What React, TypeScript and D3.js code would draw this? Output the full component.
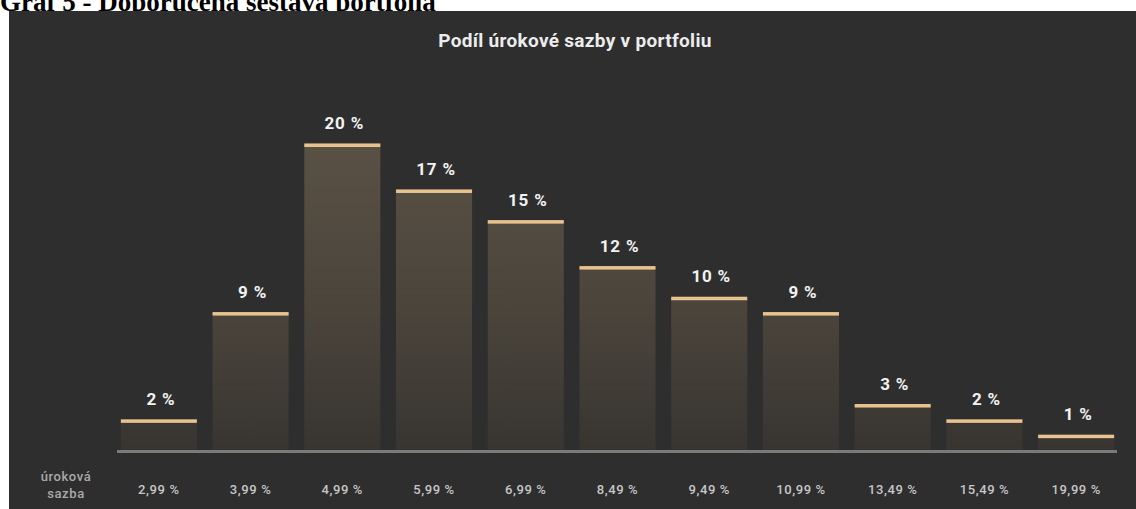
import React from "react";
import * as d3 from "d3";

// Interest-rate buckets and their share of the portfolio (%)
const rates = ["2,99 %", "3,99 %", "4,99 %", "5,99 %", "6,99 %", "8,49 %", "9,49 %", "10,99 %", "13,49 %", "15,49 %", "19,99 %"];
const shares = [2, 9, 20, 17, 15, 12, 10, 9, 3, 2, 1];

const chartTitle = "Podíl úrokové sazby v portfoliu";
const figureCaption = "Graf 5 - Doporučená sestava portfolia";
const axisCaption = ["úroková", "sazba"];

const W = 1136;
const H = 509;

export default function App() {
  const x = d3.scaleBand<string>().domain(rates).range([113, 1122]).paddingInner(0.171).paddingOuter(0.0855);
  const y = d3.scaleLinear().domain([0, 20]).range([450, 143.5]);
  const base = y(0);

  return (
    <svg
      width={W}
      height={H}
      style={{ position: "absolute", left: 0, top: 0, display: "block" }}
      fontFamily="Roboto, 'Noto Sans', sans-serif"
    >
      <defs>
        <linearGradient id="barFill" gradientUnits="userSpaceOnUse" x1="0" y1={y(20)} x2="0" y2={base}>
          <stop offset="0" stopColor="#5a5145" />
          <stop offset="0.55" stopColor="#4a443b" />
          <stop offset="1" stopColor="#383531" />
        </linearGradient>
      </defs>
      <rect x={0} y={0} width={W} height={H} fill="#ffffff" />
      {/* figure caption sits above the dark panel, its upper part clipped by the page edge */}
      <text x={0} y={10.5} fontFamily="'Liberation Serif', 'Times New Roman', serif" fontWeight="bold" fontSize={27} fill="#000">
        {figureCaption}
      </text>
      <rect x={9} y={11} width={W - 9} height={H - 11} fill="#2e2e2e" />

      <text x={575} y={46.5} textAnchor="middle" fontWeight="bold" fontSize={19} letterSpacing={0.3} fill="#ececec">
        {chartTitle}
      </text>

      {rates.map((r, i) => {
        const bx = x(r)!;
        const bw = x.bandwidth();
        const top = y(shares[i]);
        return (
          <g key={r}>
            <rect x={bx} y={top} width={bw} height={base - top} fill="url(#barFill)" />
            <rect x={bx} y={top} width={bw} height={3.5} fill="#e8c28f" />
            <text
              x={bx + bw / 2 + 2}
              y={top - 14.5}
              textAnchor="middle"
              fontWeight="bold"
              fontSize={17}
              letterSpacing={0.8}
              fill="#f2f2f2"
            >
              {`${shares[i]} %`}
            </text>
            <text
              x={bx + bw / 2}
              y={494}
              textAnchor="middle"
              fontWeight={500}
              fontSize={13}
              letterSpacing={0.6}
              fill="#c6c6c6"
            >
              {r}
            </text>
          </g>
        );
      })}

      <rect x={x.range()[0] + 4} y={base} width={x.range()[1] - x.range()[0] - 9} height={3} fill="#7a7a7a" />

      {axisCaption.map((t, i) => (
        <text key={t} x={66} y={481 + i * 17} textAnchor="middle" fontWeight={500} fontSize={13} letterSpacing={0.6} fill="#aaaaaa">
          {t}
        </text>
      ))}
    </svg>
  );
}
